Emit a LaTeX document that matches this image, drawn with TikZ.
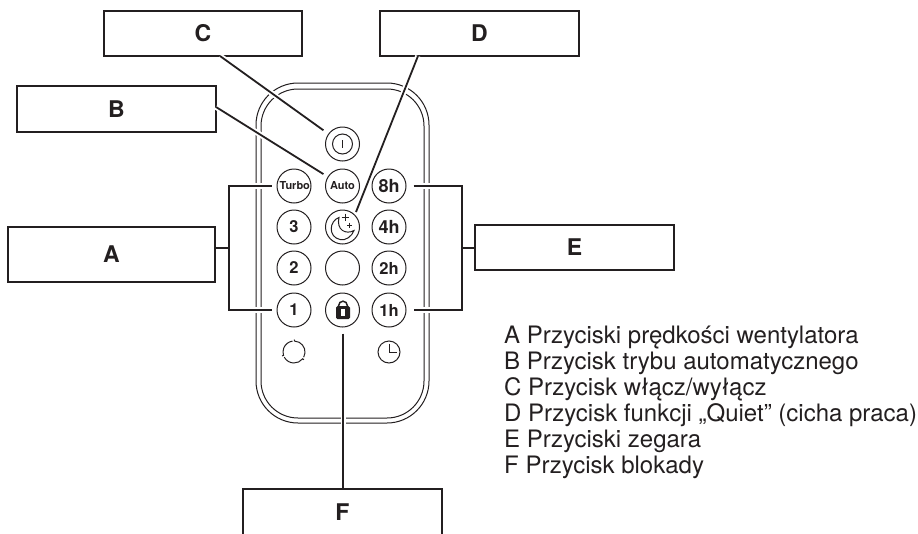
\documentclass[tikz,border=0pt]{standalone}
\usepackage{fontspec}
\setmainfont{TeX Gyre Heros}
\usetikzlibrary{calc}
\definecolor{ink}{HTML}{231F20}
\tikzset{
  labelbox/.style={draw=ink,line width=1.8pt,fill=white,minimum width=198pt,inner sep=0pt,text=ink,font=\fontsize{23}{23}\selectfont\bfseries},
  btn/.style={circle,draw=ink,line width=1pt,fill=white,minimum size=34pt,inner sep=0pt,text=ink,font=\fontsize{16.5}{16.5}\selectfont\bfseries},
  conn/.style={draw=ink,line width=1.8pt,preaction={draw=white,line width=5.5pt}},
  shell/.style={draw=ink,line width=1pt},
  glyph/.style={draw=ink,line width=1pt}
}
\begin{document}
\begin{tikzpicture}[x=1pt,y=-1pt]
\path[use as bounding box] (0,0) rectangle (918,533);
\clip (0,0) rectangle (918,533);
% remote
\draw[shell,rounded corners=42pt] (256,83) rectangle (429,423);
\draw[shell,rounded corners=37pt] (261,89) rectangle (424,418);
% buttons
\node[btn] (power) at (342.5,144) {};
\node[btn,font=\fontsize{11}{11}\selectfont\bfseries] (turbo) at (294,186) {\hspace{1.5pt}Turbo};
\node[btn,font=\fontsize{11}{11}\selectfont\bfseries] (auto) at (342.5,186) {Auto};
\node[btn,font=\fontsize{18}{18}\selectfont\bfseries] (h8) at (389,186) {8h};
\node[btn] (n3) at (294,227) {3};
\node[btn] (moon) at (342.5,227) {};
\node[btn,font=\fontsize{18}{18}\selectfont\bfseries] (h4) at (389,227) {4h};
\node[btn] (n2) at (294,268) {2};
\node[btn] (blank) at (342.5,268) {};
\node[btn] (h2) at (389,268) {2h};
\node[btn] (n1) at (294,310) {1};
\node[btn] (lock) at (342.5,310) {};
\node[btn] (h1) at (389,310) {1h};
% label boxes
\node[labelbox,minimum width=198pt,minimum height=45pt] (boxC) at (203,33.5) {C};
\node[labelbox,minimum width=199pt,minimum height=46pt] (boxB) at (116.5,109) {B};
\node[labelbox,minimum width=207pt,minimum height=55pt] (boxA) at (111.5,254.5) {A};
\node[labelbox,minimum width=199pt,minimum height=45pt] (boxD) at (479.5,33.5) {D};
\node[labelbox,minimum width=199pt,minimum height=45pt] (boxE) at (574.5,247.5) {E};
\node[labelbox,minimum width=199pt,minimum height=47pt] (boxF) at (342.5,512.5) {F};
% connectors
\coordinate (ja) at (229,248);
\coordinate (je) at (462,248);
\coordinate (startC) at (220,56);
\coordinate (startB) at (216,107);
\coordinate (startD) at (418,56);
\coordinate (endD) at (356,212);
\draw[conn,shorten >=6pt] (startC) -- (power);
\draw[conn,shorten >=5pt] (startB) -- (auto);
\draw[conn] (startD) -- (endD);
\draw[conn,shorten <=5pt,shorten >=5pt] (turbo.west) -| (ja) |- (n1.west);
\draw[conn,shorten <=7pt,shorten >=7pt] (h8.east) -| (je) |- (h1.east);
\draw[draw=ink,line width=1.8pt] (boxA.east |- ja) -- (ja);
\draw[draw=ink,line width=1.8pt] (boxE.west |- je) -- (je);
\draw[conn,shorten <=6pt] ([xshift=.8pt]lock.south) -- ([xshift=.8pt]boxF.north);
% power glyph
\draw[glyph] (power) circle[radius=10pt];
\draw[glyph] (342.5,140) -- (342.5,148);
% moon glyph
\draw[glyph] (339,217.5) .. controls (329,221) and (328,237) .. (340,239.5) .. controls (346,241) and (352,236) .. (354,230.5) .. controls (346,235) and (336,230) .. (339,217.5) -- cycle;
\draw[glyph] (345,213.5) -- (345,220.5) (341.5,217) -- (348.5,217);
\draw[glyph] (349.5,222.5) -- (349.5,227.5) (347,225) -- (352,225);
% lock glyph
\fill[ink,rounded corners=1.5pt] (336,306) rectangle (350,319);
\draw[ink,line width=1.5pt] (338.7,306) -- (338.7,305.5) arc[start angle=180,end angle=0,radius=4.3pt] -- (347.3,306);
\fill[white] (341,308.5) rectangle (345,316);
% fan and clock glyphs
\coordinate (fan) at (294,352);
\draw[glyph] (fan) ++(98:11pt) arc[start angle=98,end angle=198,radius=11pt] -- ++(198:1.5pt);
\draw[glyph] (fan) ++(208:11pt) arc[start angle=208,end angle=322,radius=11pt] -- ++(322:1.5pt);
\draw[glyph] (fan) ++(332:11pt) arc[start angle=332,end angle=448,radius=11pt] -- ++(88:1.5pt);
\coordinate (clock) at (389,352);
\draw[glyph] (clock) circle[radius=11pt];
\draw[glyph] (389,343.5) -- (clock) -- (397,352);
% legend
\node[anchor=north west,inner sep=0pt,align=left,text=ink,font=\fontsize{24}{26.1}\selectfont] (legend) at (504,325.5) {A Przyciski prędkości wentylatora\\B Przycisk trybu automatycznego\\C Przycisk włącz/wyłącz\\D Przycisk funkcji „Quiet” (cicha praca)\\E Przyciski zegara\\F Przycisk blokady};
\end{tikzpicture}
\end{document}
